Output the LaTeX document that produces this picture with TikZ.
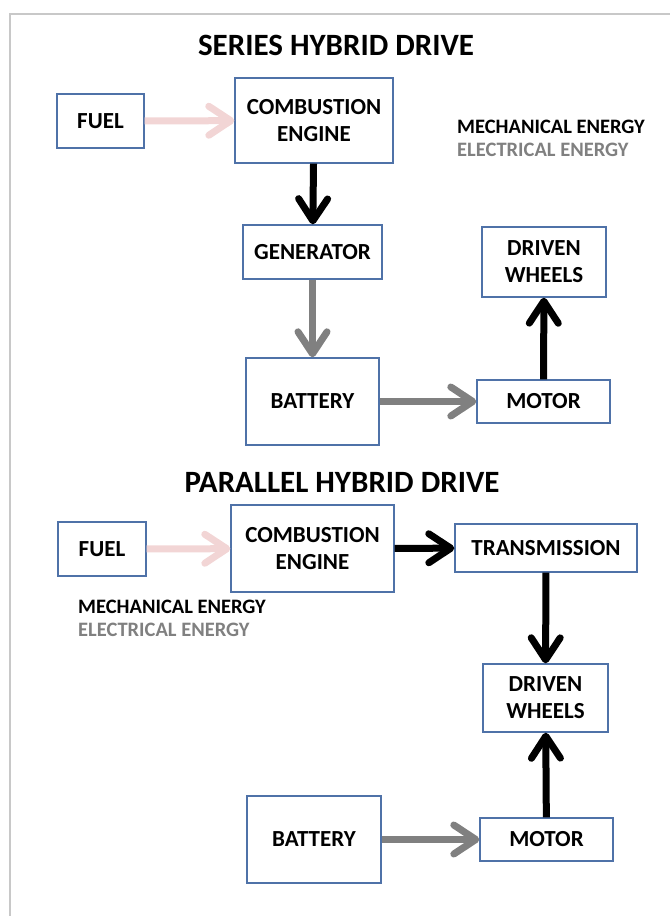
\documentclass[tikz,border=0pt]{standalone}
\usepackage{fontspec}
\setmainfont{Carlito}
\usetikzlibrary{arrows.meta}
\definecolor{boxblue}{HTML}{4F72A8}
\definecolor{framegray}{HTML}{C8C8C8}
\definecolor{fuelpink}{HTML}{F2D5D5}
\definecolor{elecgray}{HTML}{808080}
\begin{document}
\begin{tikzpicture}[x=1pt,y=-1pt,
  box/.style={draw=boxblue, line width=1.4pt, fill=white, align=center, inner sep=0pt,
    font=\fontsize{23}{27}\selectfont\bfseries},
  flow/.style={line width=7pt, -{Straight Barb[length=22pt,width=29pt,round]}},
  mech/.style={flow, black},
  elec/.style={flow, elecgray},
  fuelflow/.style={flow, fuelpink},
  ttl/.style={font=\fontsize{31}{36}\selectfont\bfseries},
  leg/.style={anchor=west, inner sep=0pt, font=\fontsize{20.5}{23}\selectfont\bfseries},
]
\useasboundingbox (0,0) rectangle (670,916);
\draw[framegray, line width=2pt] (10,916) -- (10,14) -- (670,14);

% Series hybrid
\node[ttl] (s-title) at (336,45) {SERIES HYBRID DRIVE};
\node[box, minimum width=87pt, minimum height=54pt] (s-fuel) at (100.5,121) {FUEL};
\node[box, minimum width=158pt, minimum height=85pt] (s-ce) at (314,120.5) {COMBUSTION\\ENGINE};
\node[box, minimum width=139pt, minimum height=54pt] (s-gen) at (312.5,252) {GENERATOR};
\node[box, minimum width=124pt, minimum height=70pt] (s-dw) at (544,262) {DRIVEN\\WHEELS};
\node[box, minimum width=133pt, minimum height=87pt] (s-bat) at (312.5,401.5) {BATTERY};
\node[box, minimum width=133pt, minimum height=43pt] (s-mot) at (543.5,401.5) {MOTOR};
\node[leg] (s-mech) at (457,127) {MECHANICAL ENERGY};
\node[leg, text=elecgray] (s-elec) at (457,150) {ELECTRICAL ENERGY};

\draw[fuelflow] (s-fuel) -- (s-ce);
\draw[mech] (s-ce) -- (s-gen);
\draw[elec] (s-gen) -- (s-bat);
\draw[elec] (s-bat) -- (s-mot);
\draw[mech] (s-mot) -- (s-dw);

% Parallel hybrid
\node[ttl] (p-title) at (342,482) {PARALLEL HYBRID DRIVE};
\node[box, minimum width=88pt, minimum height=54pt] (p-fuel) at (102,549) {FUEL};
\node[box, minimum width=163pt, minimum height=87pt] (p-ce) at (312.5,548.5) {COMBUSTION\\ENGINE};
\node[box, minimum width=182pt, minimum height=48pt] (p-tr) at (546,548) {TRANSMISSION};
\node[box, minimum width=125pt, minimum height=68pt] (p-dw) at (545.5,698) {DRIVEN\\WHEELS};
\node[box, minimum width=134pt, minimum height=87pt] (p-bat) at (314,839.5) {BATTERY};
\node[box, minimum width=133pt, minimum height=43pt] (p-mot) at (546.5,839.5) {MOTOR};
\node[leg] (p-mech) at (78,607) {MECHANICAL ENERGY};
\node[leg, text=elecgray] (p-elec) at (78,630) {ELECTRICAL ENERGY};

\draw[fuelflow] (p-fuel) -- (p-ce);
\draw[mech] (p-ce) -- (p-tr);
\draw[mech] (p-tr) -- (p-dw);
\draw[elec] (p-bat) -- (p-mot);
\draw[mech] (p-mot) -- (p-dw);
\end{tikzpicture}
\end{document}
